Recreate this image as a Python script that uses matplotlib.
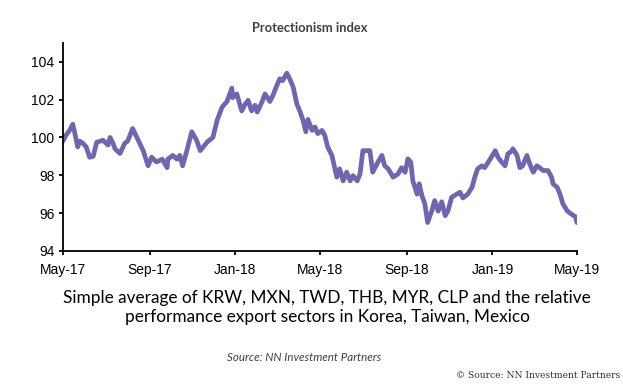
import matplotlib
matplotlib.use("Agg")
import matplotlib.pyplot as plt
import matplotlib.dates as mdates
import pandas as pd

dates = [
    "2017-05-01", "2017-05-05", "2017-05-11", "2017-05-15", "2017-05-18", "2017-05-22",
    "2017-05-25", "2017-05-29", "2017-06-03", "2017-06-08", "2017-06-13", "2017-06-18",
    "2017-06-23", "2017-06-27", "2017-07-04", "2017-07-07", "2017-07-11", "2017-07-14",
    "2017-07-21", "2017-07-28", "2017-08-01", "2017-08-07", "2017-08-08", "2017-08-16",
    "2017-08-23", "2017-08-30", "2017-09-04", "2017-09-11", "2017-09-19", "2017-09-26",
    "2017-09-27", "2017-10-04", "2017-10-10", "2017-10-14", "2017-10-18", "2017-10-24",
    "2017-10-31", "2017-11-07", "2017-11-12", "2017-11-22", "2017-11-30", "2017-12-06",
    "2017-12-13", "2017-12-20", "2017-12-27", "2017-12-28", "2018-01-03", "2018-01-10",
    "2018-01-14", "2018-01-19", "2018-01-24", "2018-01-29", "2018-02-01", "2018-02-08",
    "2018-02-12", "2018-02-19", "2018-02-23", "2018-03-01", "2018-03-05", "2018-03-09",
    "2018-03-15", "2018-03-19", "2018-03-24", "2018-03-29", "2018-04-03", "2018-04-07",
    "2018-04-11", "2018-04-14", "2018-04-20", "2018-04-24", "2018-04-28", "2018-05-04",
    "2018-05-08", "2018-05-12", "2018-05-18", "2018-05-22", "2018-05-25", "2018-05-29",
    "2018-06-03", "2018-06-08", "2018-06-13", "2018-06-17", "2018-06-23", "2018-06-27",
    "2018-07-01", "2018-07-07", "2018-07-11", "2018-07-15", "2018-07-21", "2018-07-28",
    "2018-08-01", "2018-08-06", "2018-08-13", "2018-08-20", "2018-08-25", "2018-08-30",
    "2018-09-03", "2018-09-07", "2018-09-10", "2018-09-16", "2018-09-19", "2018-09-23",
    "2018-09-27", "2018-10-01", "2018-10-07", "2018-10-11", "2018-10-16", "2018-10-21",
    "2018-10-26", "2018-10-30", "2018-11-04", "2018-11-09", "2018-11-16", "2018-11-20",
    "2018-11-27", "2018-12-03", "2018-12-07", "2018-12-11", "2018-12-17", "2018-12-21",
    "2018-12-28", "2019-01-05", "2019-01-09", "2019-01-14", "2019-01-19", "2019-01-23",
    "2019-01-29", "2019-01-30", "2019-02-05", "2019-02-09", "2019-02-13", "2019-02-19",
    "2019-02-23", "2019-02-28", "2019-03-05", "2019-03-09", "2019-03-14", "2019-03-21",
    "2019-03-26", "2019-03-28", "2019-04-03", "2019-04-07", "2019-04-11", "2019-04-17",
    "2019-04-21", "2019-04-25", "2019-04-29", "2019-05-01",
]

index_values = [
    99.8, 100.1, 100.4, 100.7, 100.2, 99.5,
    99.8, 99.7, 99.5, 98.95, 99.0, 99.75,
    99.8, 99.85, 99.6, 100.0, 99.7, 99.4,
    99.15, 99.7, 99.8, 100.37, 100.47, 99.84,
    99.3, 98.5, 98.95, 98.7, 98.85, 98.4,
    98.85, 99.05, 98.85, 99.05, 98.5, 99.3,
    100.3, 99.84, 99.3, 99.76, 100.0, 100.9,
    101.6, 101.9, 102.6, 102.1, 102.3, 101.4,
    101.7, 101.96, 101.4, 101.7, 101.34, 101.9,
    102.3, 101.9, 102.2, 102.76, 103.1, 103.0,
    103.4, 103.1, 102.67, 101.8, 101.34, 100.9,
    100.3, 100.95, 100.37, 100.55, 100.2, 100.37,
    100.1, 99.5, 99.05, 98.4, 97.9, 98.34,
    97.7, 98.16, 97.7, 97.98, 97.7, 98.07,
    99.3, 99.3, 99.3, 98.16, 98.6, 99.05,
    98.5, 98.34, 97.9, 98.07, 98.4, 98.16,
    98.87, 98.7, 97.7, 97.0, 97.55, 96.9,
    96.5, 95.5, 96.13, 96.66, 96.1, 96.6,
    95.86, 96.13, 96.83, 96.95, 97.1, 96.8,
    97.0, 97.36, 97.9, 98.34, 98.5, 98.4,
    98.8, 99.3, 98.95, 98.7, 98.5, 99.13,
    99.3, 99.4, 99.05, 98.4, 98.5, 99.05,
    98.6, 98.16, 98.5, 98.4, 98.25, 98.25,
    97.9, 97.55, 97.36, 97.0, 96.5, 96.13,
    96.0, 95.9, 95.8, 95.5,
]

x_ticks = ["2017-05-01", "2017-09-01", "2018-01-01", "2018-05-01",
           "2018-09-01", "2019-01-01", "2019-05-01"]
y_ticks = [94, 96, 98, 100, 102, 104]

title = "Protectionism index"
caption = ("Simple average of KRW, MXN, TWD, THB, MYR, CLP and the relative\n"
           "performance export sectors in Korea, Taiwan, Mexico")
source = "Source: NN Investment Partners"
credit = "\u00a9 Source: NN Investment Partners"

fig = plt.figure(figsize=(6.23, 3.86), dpi=100)
ax = fig.add_axes([0.101, 0.350, 0.825, 0.539])

x = pd.to_datetime(dates)
ax.plot(x, index_values, color="#6e66b0", lw=3.4, solid_capstyle="round",
        solid_joinstyle="round")

ax.set_ylim(94, 105)
ax.set_yticks(y_ticks)
ax.set_xlim(pd.Timestamp(x_ticks[0]), pd.Timestamp(x_ticks[-1]))
ax.set_xticks(pd.to_datetime(x_ticks))
ax.xaxis.set_major_formatter(mdates.DateFormatter("%b-%y"))

for s in ["top", "right"]:
    ax.spines[s].set_visible(False)
for s in ["left", "bottom"]:
    ax.spines[s].set_linewidth(1.3)
    ax.spines[s].set_color("black")

ax.tick_params(axis="both", direction="out", length=3, width=1.3,
               labelsize=10, colors="black")
ax.tick_params(axis="x", pad=6)
ax.tick_params(axis="y", pad=3)
for lbl in ax.get_xticklabels() + ax.get_yticklabels():
    lbl.set_fontfamily("Liberation Sans")

fig.text(0.4976, 0.927, title, ha="center", va="center", fontsize=9.3,
         fontweight="bold", color="#404040", family="Lato")
fig.text(0.525, 0.203, caption, ha="center", va="center", fontsize=12.4,
         color="black", family="Lato", linespacing=1.25)
fig.text(0.488, 0.075, source, ha="center", va="center", fontsize=8.3,
         style="italic", color="#404040", family="Lato")
fig.text(0.995, 0.026, credit, ha="right", va="center", fontsize=6.6,
         color="#333333", family="DejaVu Serif")

fig.savefig("out.png", dpi=100)
